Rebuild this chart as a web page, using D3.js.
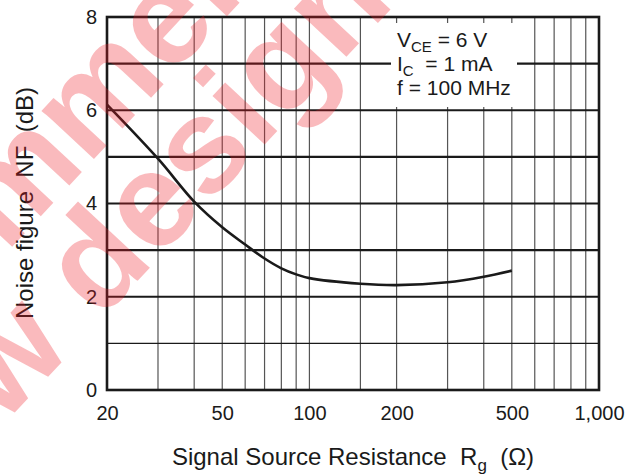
<!DOCTYPE html>
<html>
<head>
<meta charset="utf-8">
<script src="https://cdn.jsdelivr.net/npm/d3@7"></script>
<style>
    body { margin: 0; background: #fff; }
    svg { display: block; font-family: "Liberation Sans", Arial, sans-serif; }
</style>
</head>
<body>
<div class="chart"></div>
<script>
const resistance = [20, 30, 40, 50, 60, 70, 80, 90, 100, 150, 200, 300, 400, 500];
const noiseFigure = [6.12, 4.96, 4.04, 3.49, 3.12, 2.82, 2.61, 2.48, 2.4, 2.28, 2.25, 2.31, 2.43, 2.56];

const xTicks = [20, 50, 100, 200, 500, 1000];
const xTickLabels = ["20", "50", "100", "200", "500", "1,000"];
const yTicks = [0, 2, 4, 6, 8];
const xGrid = [30, 40, 50, 60, 70, 80, 90, 100, 150, 200, 300, 400, 500, 600, 700, 800, 900];
const yGrid = [1, 2, 3, 4, 5, 6, 7];

const conditions = [
    { main: "V", sub: "CE", rest: " = 6 V" },
    { main: "I", sub: "C", rest: "  = 1 mA" },
    { main: "f = 100 MHz", sub: "", rest: "" }
];
const watermarkLines = ["Not recommended for", "new design"];

const width = 636, height = 475;
const plotLeft = 107, plotRight = 599, plotTop = 17, plotBottom = 390;

const svg = d3.select(".chart").append("svg").attr("width", width).attr("height", height);

const x = d3.scaleLog().domain([20, 1000]).range([plotLeft, plotRight]);
const y = d3.scaleLinear().domain([0, 8]).range([plotBottom, plotTop]);

const grid = svg.append("g").attr("class", "grid");
grid.selectAll(".vline").data(xGrid).enter().append("line")
    .attr("class", "vline")
    .attr("x1", d => x(d)).attr("x2", d => x(d))
    .attr("y1", plotTop).attr("y2", plotBottom)
    .attr("stroke", "#555").attr("stroke-width", 1.2);
grid.selectAll(".hline").data(yGrid).enter().append("line")
    .attr("class", "hline")
    .attr("x1", plotLeft).attr("x2", plotRight)
    .attr("y1", d => y(d)).attr("y2", d => y(d))
    .attr("stroke", "#1a1a1a").attr("stroke-width", d => d === 1 ? 1.4 : 2.2);

// white box behind the test conditions
svg.append("rect").attr("x", 391).attr("y", 23).attr("width", 126).attr("height", 84).attr("fill", "#fff");

const cond = svg.append("text").attr("font-size", 21).attr("fill", "#1a1a1a").attr("xml:space", "preserve");
conditions.forEach((c, i) => {
    const t = cond.append("tspan").attr("x", 397).attr("y", 47 + i * 24);
    t.append("tspan").text(c.main);
    if (c.sub) {
        t.append("tspan").attr("font-size", 15).attr("dy", 5).text(c.sub);
        t.append("tspan").attr("dy", -5).text(c.rest);
    }
});

svg.append("path")
    .datum(resistance.map((r, i) => [r, noiseFigure[i]]))
    .attr("fill", "none").attr("stroke", "#1a1a1a").attr("stroke-width", 2.6)
    .attr("d", d3.line().x(d => x(d[0])).y(d => y(d[1])).curve(d3.curveCatmullRom.alpha(0.5)));

svg.append("rect")
    .attr("x", plotLeft).attr("y", plotTop).attr("width", plotRight - plotLeft).attr("height", plotBottom - plotTop)
    .attr("fill", "none").attr("stroke", "#1a1a1a").attr("stroke-width", 2.6);

const xAxis = svg.append("g").attr("transform", `translate(0,${plotBottom})`)
    .call(d3.axisBottom(x).tickValues(xTicks).tickFormat((d, i) => xTickLabels[i]).tickSize(0).tickPadding(16));
const yAxis = svg.append("g").attr("transform", `translate(${plotLeft},0)`)
    .call(d3.axisLeft(y).tickValues(yTicks).tickSize(0).tickPadding(10));
[xAxis, yAxis].forEach(a => {
    a.select(".domain").remove();
    a.selectAll("text").attr("font-size", 20).attr("font-family", "Liberation Sans, Arial, sans-serif").attr("fill", "#1a1a1a");
});

const xTitle = svg.append("text").attr("x", 353).attr("y", 465).attr("text-anchor", "middle")
    .attr("font-size", 24).attr("fill", "#1a1a1a").attr("xml:space", "preserve");
xTitle.append("tspan").text("Signal Source Resistance  R");
xTitle.append("tspan").attr("font-size", 17).attr("dy", 6).text("g");
xTitle.append("tspan").attr("dy", -6).text("  (\u03a9)");

svg.append("text").attr("transform", "translate(33,203) rotate(-90)").attr("text-anchor", "middle")
    .attr("font-size", 24).attr("fill", "#1a1a1a").attr("xml:space", "preserve")
    .text("Noise figure  NF  (dB)");

const wm = svg.append("g").attr("transform", "translate(-105,541) rotate(-47)")
    .attr("fill", "rgb(237,28,36)").attr("fill-opacity", 0.3)
    .attr("font-size", 135).attr("font-weight", "bold");
wm.selectAll("text").data(watermarkLines).enter().append("text")
    .attr("x", (d, i) => i === 0 ? -262 : 0).attr("y", (d, i) => (i - 1) * 115)
    .text(d => d);
</script>
</body>
</html>
